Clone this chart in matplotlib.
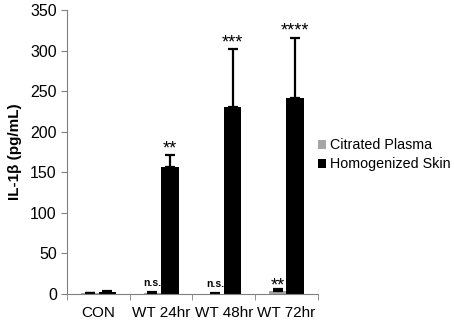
import numpy as np
import matplotlib.pyplot as plt

plt.rcParams['font.family'] = ['Liberation Sans', 'DejaVu Sans']

categories = ["CON", "WT 24hr", "WT 48hr", "WT 72hr"]
plasma = [1.0, 1.0, 0.5, 4.0]
plasma_err = [0.5, 1.0, 0.5, 2.0]
skin = [2.0, 156, 230, 242]
skin_err = [2.0, 15, 72, 74]
plasma_marks = ["", "n.s.", "n.s.", "**"]
skin_marks = ["", "**", "***", "****"]

fig = plt.figure(figsize=(4.54, 3.22), dpi=100)
ax = fig.add_axes([0.148, 0.087, 0.552, 0.882])

x = np.arange(len(categories))
w = 0.28
ekw = dict(ecolor="black", capsize=3.5, elinewidth=1.6, capthick=1.6)
ax.bar(x - w / 2, plasma, w, color="#a6a6a6", label="Citrated Plasma",
       yerr=[np.zeros(4), plasma_err], error_kw=ekw)
ax.bar(x + w / 2, skin, w, color="black", label="Homogenized Skin",
       yerr=[np.zeros(4), skin_err], error_kw=ekw)

for i in range(len(categories)):
    m = plasma_marks[i]
    if m:
        top = plasma[i] + plasma_err[i]
        if m == "n.s.":
            ax.text(x[i] - w / 2, top + 8, m, ha="center", va="baseline",
                    fontsize=7.5, fontweight="bold")
        else:
            ax.text(x[i] - w / 2, top - 2, m, ha="center", va="baseline", fontsize=13)
    if skin_marks[i]:
        ax.text(x[i] + w / 2, skin[i] + skin_err[i] + 2, skin_marks[i],
                ha="center", va="baseline", fontsize=13)

ax.set_xlim(-0.5, 3.5)
ax.set_ylim(0, 350)
ax.set_yticks(range(0, 351, 50))
ax.set_xticks(x)
ax.set_xticklabels(categories, fontsize=11)
ax.set_xticks(np.arange(-0.5, 4, 1), minor=True)
ax.tick_params(axis="x", which="major", length=0, pad=9)
ax.tick_params(axis="x", which="minor", length=4, color="#808080")
ax.tick_params(axis="y", labelsize=11.5, length=4, color="#808080")
ax.set_ylabel("IL-1β (pg/mL)", fontsize=11, fontweight="bold", labelpad=6)
for s in ["top", "right"]:
    ax.spines[s].set_visible(False)
for s in ["left", "bottom"]:
    ax.spines[s].set_color("#808080")

ax.legend(loc="center left", bbox_to_anchor=(0.99, 0.49), frameon=False,
          fontsize=10.3, handlelength=0.55, handleheight=0.55, handletextpad=0.3,
          labelspacing=0.35, borderaxespad=0.0, borderpad=0.2)

fig.savefig("out.png", dpi=100)
